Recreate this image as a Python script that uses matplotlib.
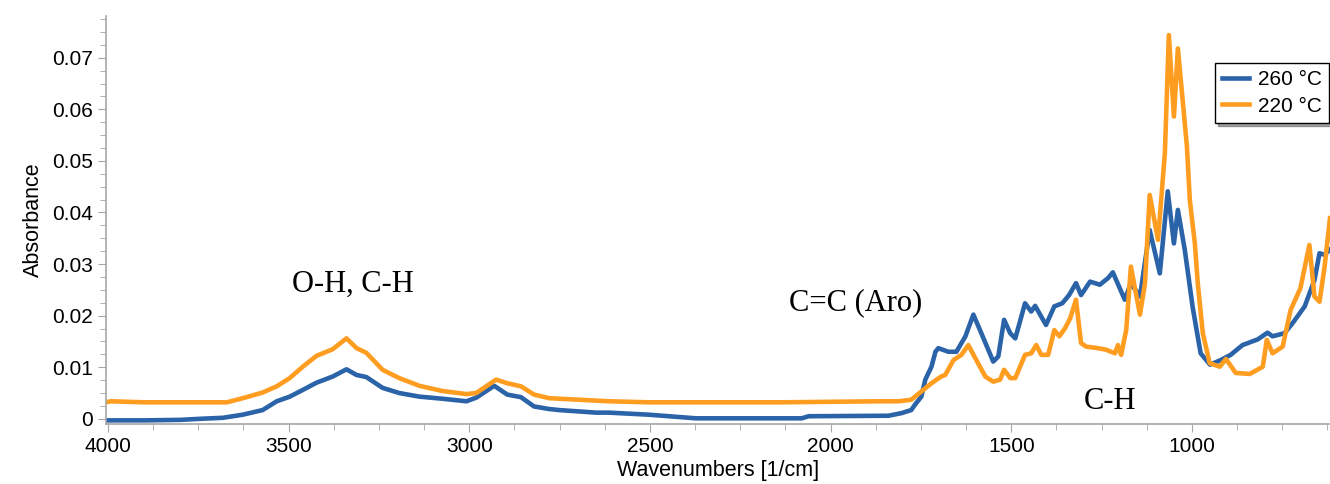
import matplotlib
matplotlib.use('Agg')
import matplotlib.pyplot as plt
from matplotlib.ticker import MultipleLocator, FixedLocator

# 260 °C spectrum (wavenumber, absorbance)
wn_260 = [4000, 3900, 3800, 3746, 3682, 3627, 3572, 3533, 3497, 3461, 3423, 3378,
          3340, 3312, 3285, 3240, 3194, 3138, 3075, 3008, 2981, 2931, 2895, 2857,
          2821, 2779, 2752, 2649, 2613, 2503, 2373, 2080, 2061, 1840, 1804, 1777,
          1766, 1749, 1738, 1721, 1710, 1702, 1674, 1652, 1627, 1605, 1583, 1550,
          1536, 1520, 1503, 1489, 1462, 1445, 1434, 1404, 1381, 1359, 1340, 1321,
          1307, 1282, 1255, 1232, 1219, 1186, 1169, 1144, 1117, 1089, 1067, 1050,
          1039, 1020, 998, 976, 950, 920, 893, 860, 818, 791, 777, 744, 722, 688,
          661, 647, 633, 618]
abs_260 = [-0.0003, -0.0003, -0.0002, 0.0000, 0.0002, 0.0008, 0.0017, 0.0034, 0.0043,
           0.0056, 0.0070, 0.0082, 0.0096, 0.0085, 0.0081, 0.0060, 0.0050, 0.0043,
           0.0039, 0.0034, 0.0041, 0.0064, 0.0047, 0.0042, 0.0024, 0.0019, 0.0017,
           0.0012, 0.0012, 0.0008, 0.0001, 0.0001, 0.0005, 0.0006, 0.0011, 0.0017,
           0.0028, 0.0043, 0.0076, 0.0101, 0.0130, 0.0137, 0.0130, 0.0130, 0.0160,
           0.0202, 0.0166, 0.0111, 0.0121, 0.0192, 0.0166, 0.0156, 0.0224, 0.0208,
           0.0219, 0.0182, 0.0218, 0.0224, 0.0240, 0.0263, 0.0240, 0.0266, 0.0260,
           0.0273, 0.0284, 0.0231, 0.0263, 0.0237, 0.0366, 0.0282, 0.0441, 0.0340,
           0.0405, 0.0328, 0.0216, 0.0127, 0.0105, 0.0114, 0.0124, 0.0143, 0.0154,
           0.0167, 0.0160, 0.0166, 0.0185, 0.0218, 0.0269, 0.0321, 0.0318, 0.0328]

# 220 °C spectrum
wn_220 = [4000, 3990, 3900, 3800, 3671, 3627, 3572, 3533, 3497, 3461, 3423, 3378,
          3340, 3312, 3285, 3240, 3194, 3138, 3075, 3008, 2981, 2926, 2895, 2857,
          2821, 2779, 2613, 2503, 2136, 1868, 1812, 1777, 1749, 1721, 1694, 1683,
          1660, 1638, 1619, 1600, 1572, 1550, 1531, 1520, 1503, 1489, 1462, 1445,
          1431, 1417, 1398, 1381, 1367, 1351, 1337, 1321, 1307, 1293, 1260, 1238,
          1213, 1205, 1196, 1182, 1169, 1144, 1130, 1117, 1094, 1075, 1064, 1050,
          1039, 1025, 1014, 1006, 992, 984, 970, 951, 923, 906, 879, 840, 804, 793,
          777, 749, 727, 700, 675, 661, 647, 633, 618]
abs_220 = [0.0033, 0.0034, 0.0032, 0.0032, 0.0032, 0.0040, 0.0051, 0.0063, 0.0079,
           0.0101, 0.0122, 0.0135, 0.0156, 0.0137, 0.0128, 0.0095, 0.0079, 0.0064,
           0.0054, 0.0048, 0.0050, 0.0076, 0.0069, 0.0063, 0.0047, 0.0040, 0.0034,
           0.0032, 0.0032, 0.0034, 0.0034, 0.0037, 0.0053, 0.0069, 0.0082, 0.0085,
           0.0114, 0.0124, 0.0143, 0.0118, 0.0082, 0.0072, 0.0076, 0.0095, 0.0079,
           0.0079, 0.0124, 0.0127, 0.0143, 0.0124, 0.0124, 0.0172, 0.0160, 0.0176,
           0.0195, 0.0231, 0.0147, 0.0140, 0.0137, 0.0134, 0.0127, 0.0143, 0.0124,
           0.0172, 0.0295, 0.0202, 0.0263, 0.0434, 0.0347, 0.0515, 0.0744, 0.0586,
           0.0718, 0.0612, 0.0528, 0.0424, 0.0340, 0.0263, 0.0166, 0.0108, 0.0101,
           0.0116, 0.0089, 0.0087, 0.0101, 0.0153, 0.0127, 0.0140, 0.0211, 0.0253,
           0.0337, 0.0237, 0.0227, 0.0295, 0.0389]

x_ticks = [4000, 3500, 3000, 2500, 2000, 1500, 1000]
y_ticks = [0, 0.01, 0.02, 0.03, 0.04, 0.05, 0.06, 0.07]
y_labels = ['0', '0.01', '0.02', '0.03', '0.04', '0.05', '0.06', '0.07']

# annotations: text, wavenumber, absorbance
notes = [('O-H, C-H', 3323, 0.0260),
         ('C=C (Aro)', 1931, 0.0225),
         ('C-H', 1227, 0.0033)]

plt.rcParams['font.family'] = ['Liberation Sans', 'DejaVu Sans']

fig = plt.figure(figsize=(13.3, 4.84), dpi=100)
ax = fig.add_axes([0.0797, 0.124, 0.9203, 0.843])

blue = '#2b63a8'
orange = '#ff9d21'
ax.plot(wn_260, abs_260, color=blue, lw=3.3, label='260 °C', solid_joinstyle='round')
ax.plot(wn_220, abs_220, color=orange, lw=3.3, label='220 °C', solid_joinstyle='round')

ax.set_xlim(4005.5, 618)
ax.set_ylim(-0.001, 0.0781)

ax.xaxis.set_major_locator(FixedLocator(x_ticks))
ax.xaxis.set_minor_locator(MultipleLocator(125))
ax.yaxis.set_major_locator(FixedLocator(y_ticks))
ax.set_yticklabels(y_labels)
ax.yaxis.set_minor_locator(MultipleLocator(0.0025))

for s in ['top', 'right']:
    ax.spines[s].set_visible(False)
for s in ['left', 'bottom']:
    ax.spines[s].set_color('#a6a6a6')
    ax.spines[s].set_linewidth(1.2)

ax.tick_params(which='both', colors='#a6a6a6', labelcolor='black', labelsize=15)
ax.tick_params(which='major', length=6)
ax.tick_params(which='minor', length=4)

ax.set_xlabel('Wavenumbers [1/cm]', fontsize=15.5, labelpad=3)
ax.set_ylabel('Absorbance', fontsize=15.5, labelpad=6)

for txt, x, y in notes:
    ax.text(x, y, txt, fontsize=22, family='Liberation Serif', ha='center', va='center')

leg = ax.legend(loc='upper left', bbox_to_anchor=(0.9135, 0.870), bbox_transform=fig.transFigure,
                fontsize=15, frameon=True, fancybox=False, shadow=True, framealpha=1,
                edgecolor='black', handlelength=1.3, borderpad=0.35, labelspacing=0.35,
                handletextpad=0.4, borderaxespad=0)
leg.get_frame().set_linewidth(1.0)

fig.savefig('out.png', dpi=100)
